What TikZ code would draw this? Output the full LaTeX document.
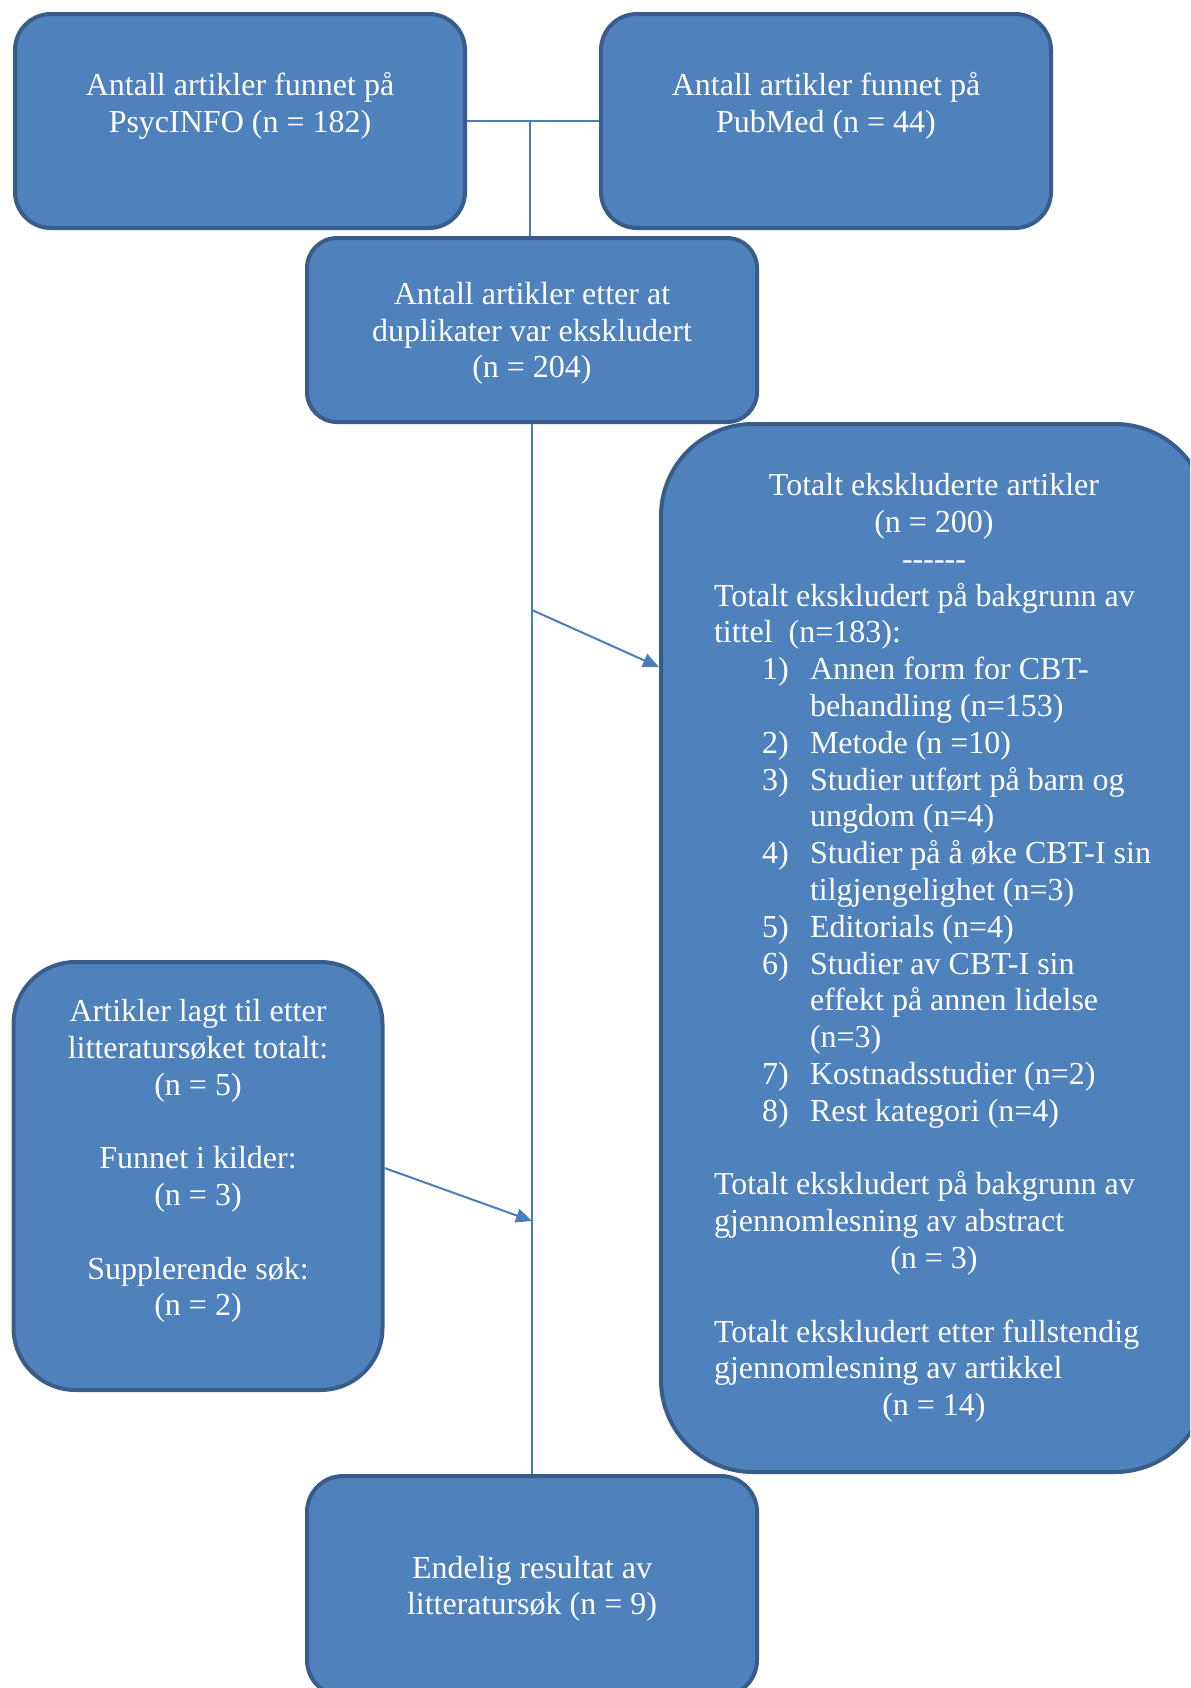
\documentclass[tikz,border=0pt]{standalone}
\usepackage{fontspec}
\setmainfont{Liberation Serif}
\usetikzlibrary{arrows.meta}
\definecolor{boxfill}{HTML}{4F81BD}
\definecolor{boxline}{HTML}{385D8A}
\definecolor{linkline}{HTML}{4A7EBB}
\newlength\exclw
\setlength\exclw{220pt}
\newcommand\hyph{\mbox{-}}

\begin{document}
\begin{tikzpicture}[x=0.5pt,y=-0.5pt]
        \tikzset{stagebox/.style={draw=boxline,fill=boxfill,line width=2pt,text=white,
                font=\fontsize{16pt}{18.4pt}\selectfont,align=center,inner sep=0pt,
                rounded corners=18pt},
            link/.style={draw=linkline,line width=1pt},
            arrowlink/.style={link,-{Triangle[length=8pt,width=7pt]}}}
        \useasboundingbox (0,0) rectangle (1190,1688);
        \clip (0,0) rectangle (1190,1688);
        \node[stagebox,minimum width=225pt,minimum height=107pt,text depth=-4.1pt] (psyc) at (240,121)
            {Antall artikler funnet på\\PsycINFO (n = 182)\\\strut};
        \node[stagebox,minimum width=225pt,minimum height=107pt,text depth=-4.1pt] (pubmed) at (826,121)
            {Antall artikler funnet på\\PubMed (n = 44)\\\strut};
        \node[stagebox,minimum width=225pt,minimum height=92pt,rounded corners=15pt,text depth=-6.8pt] (dupl) at (532,330)
            {Antall artikler etter at\\duplikater var ekskludert\\(n = 204)};
        \node[stagebox,minimum width=273pt,minimum height=524pt,rounded corners=46pt,
            text width=\exclw,align=flush left] (excl) at (934,948)
            {\makebox[\exclw]{Totalt ekskluderte artikler}\\
            \makebox[\exclw]{(n = 200)}\\
            \makebox[\exclw]{\hyph\hyph\hyph\hyph\hyph\hyph}\\
            Totalt ekskludert på bakgrunn av\\
            tittel\ \ (n=183):\\
            \hspace*{24pt}\makebox[24pt][l]{1)}Annen form for CBT-\\
            \hspace*{48pt}behandling (n=153)\\
            \hspace*{24pt}\makebox[24pt][l]{2)}Metode (n =10)\\
            \hspace*{24pt}\makebox[24pt][l]{3)}Studier utført på barn og\\
            \hspace*{48pt}ungdom (n=4)\\
            \hspace*{24pt}\makebox[24pt][l]{4)}Studier på å øke CBT-I sin\\
            \hspace*{48pt}tilgjengelighet (n=3)\\
            \hspace*{24pt}\makebox[24pt][l]{5)}Editorials (n=4)\\
            \hspace*{24pt}\makebox[24pt][l]{6)}Studier av CBT-I sin\\
            \hspace*{48pt}effekt på annen lidelse\\
            \hspace*{48pt}(n=3)\\
            \hspace*{24pt}\makebox[24pt][l]{7)}Kostnadsstudier (n=2)\\
            \hspace*{24pt}\makebox[24pt][l]{8)}Rest kategori (n=4)\\
            \mbox{}\\
            Totalt ekskludert på bakgrunn av\\
            gjennomlesning av abstract\\
            \makebox[\exclw]{(n = 3)}\\
            \mbox{}\\
            Totalt ekskludert etter fullstendig\\
            gjennomlesning av artikkel\\
            \makebox[\exclw]{(n = 14)}};
        \node[stagebox,minimum width=184.5pt,minimum height=214pt,rounded corners=31pt,text depth=-4.2pt] (added) at (198,1176)
            {Artikler lagt til etter\\litteratursøket totalt:\\(n = 5)\\\strut\\Funnet i kilder:\\(n = 3)\\\strut\\Supplerende søk:\\(n = 2)\\\strut};
        \node[stagebox,minimum width=225pt,minimum height=110pt,text depth=0.6pt] (result) at (532,1586)
            {Endelig resultat av\\litteratursøk (n = 9)};
        \coordinate (split) at (530,120);
        \draw[link] (psyc.east) -- (pubmed.west);
        \draw[link] (split) -- (split |- dupl.north);
        \draw[link] (dupl.south) -- (result.north);
        \draw[arrowlink] (dupl.south |- 0,610) -- (excl.west |- 0,667);
        \draw[arrowlink] (added.east |- 0,1168) -- (dupl.south |- 0,1221);
\end{tikzpicture}
\end{document}
